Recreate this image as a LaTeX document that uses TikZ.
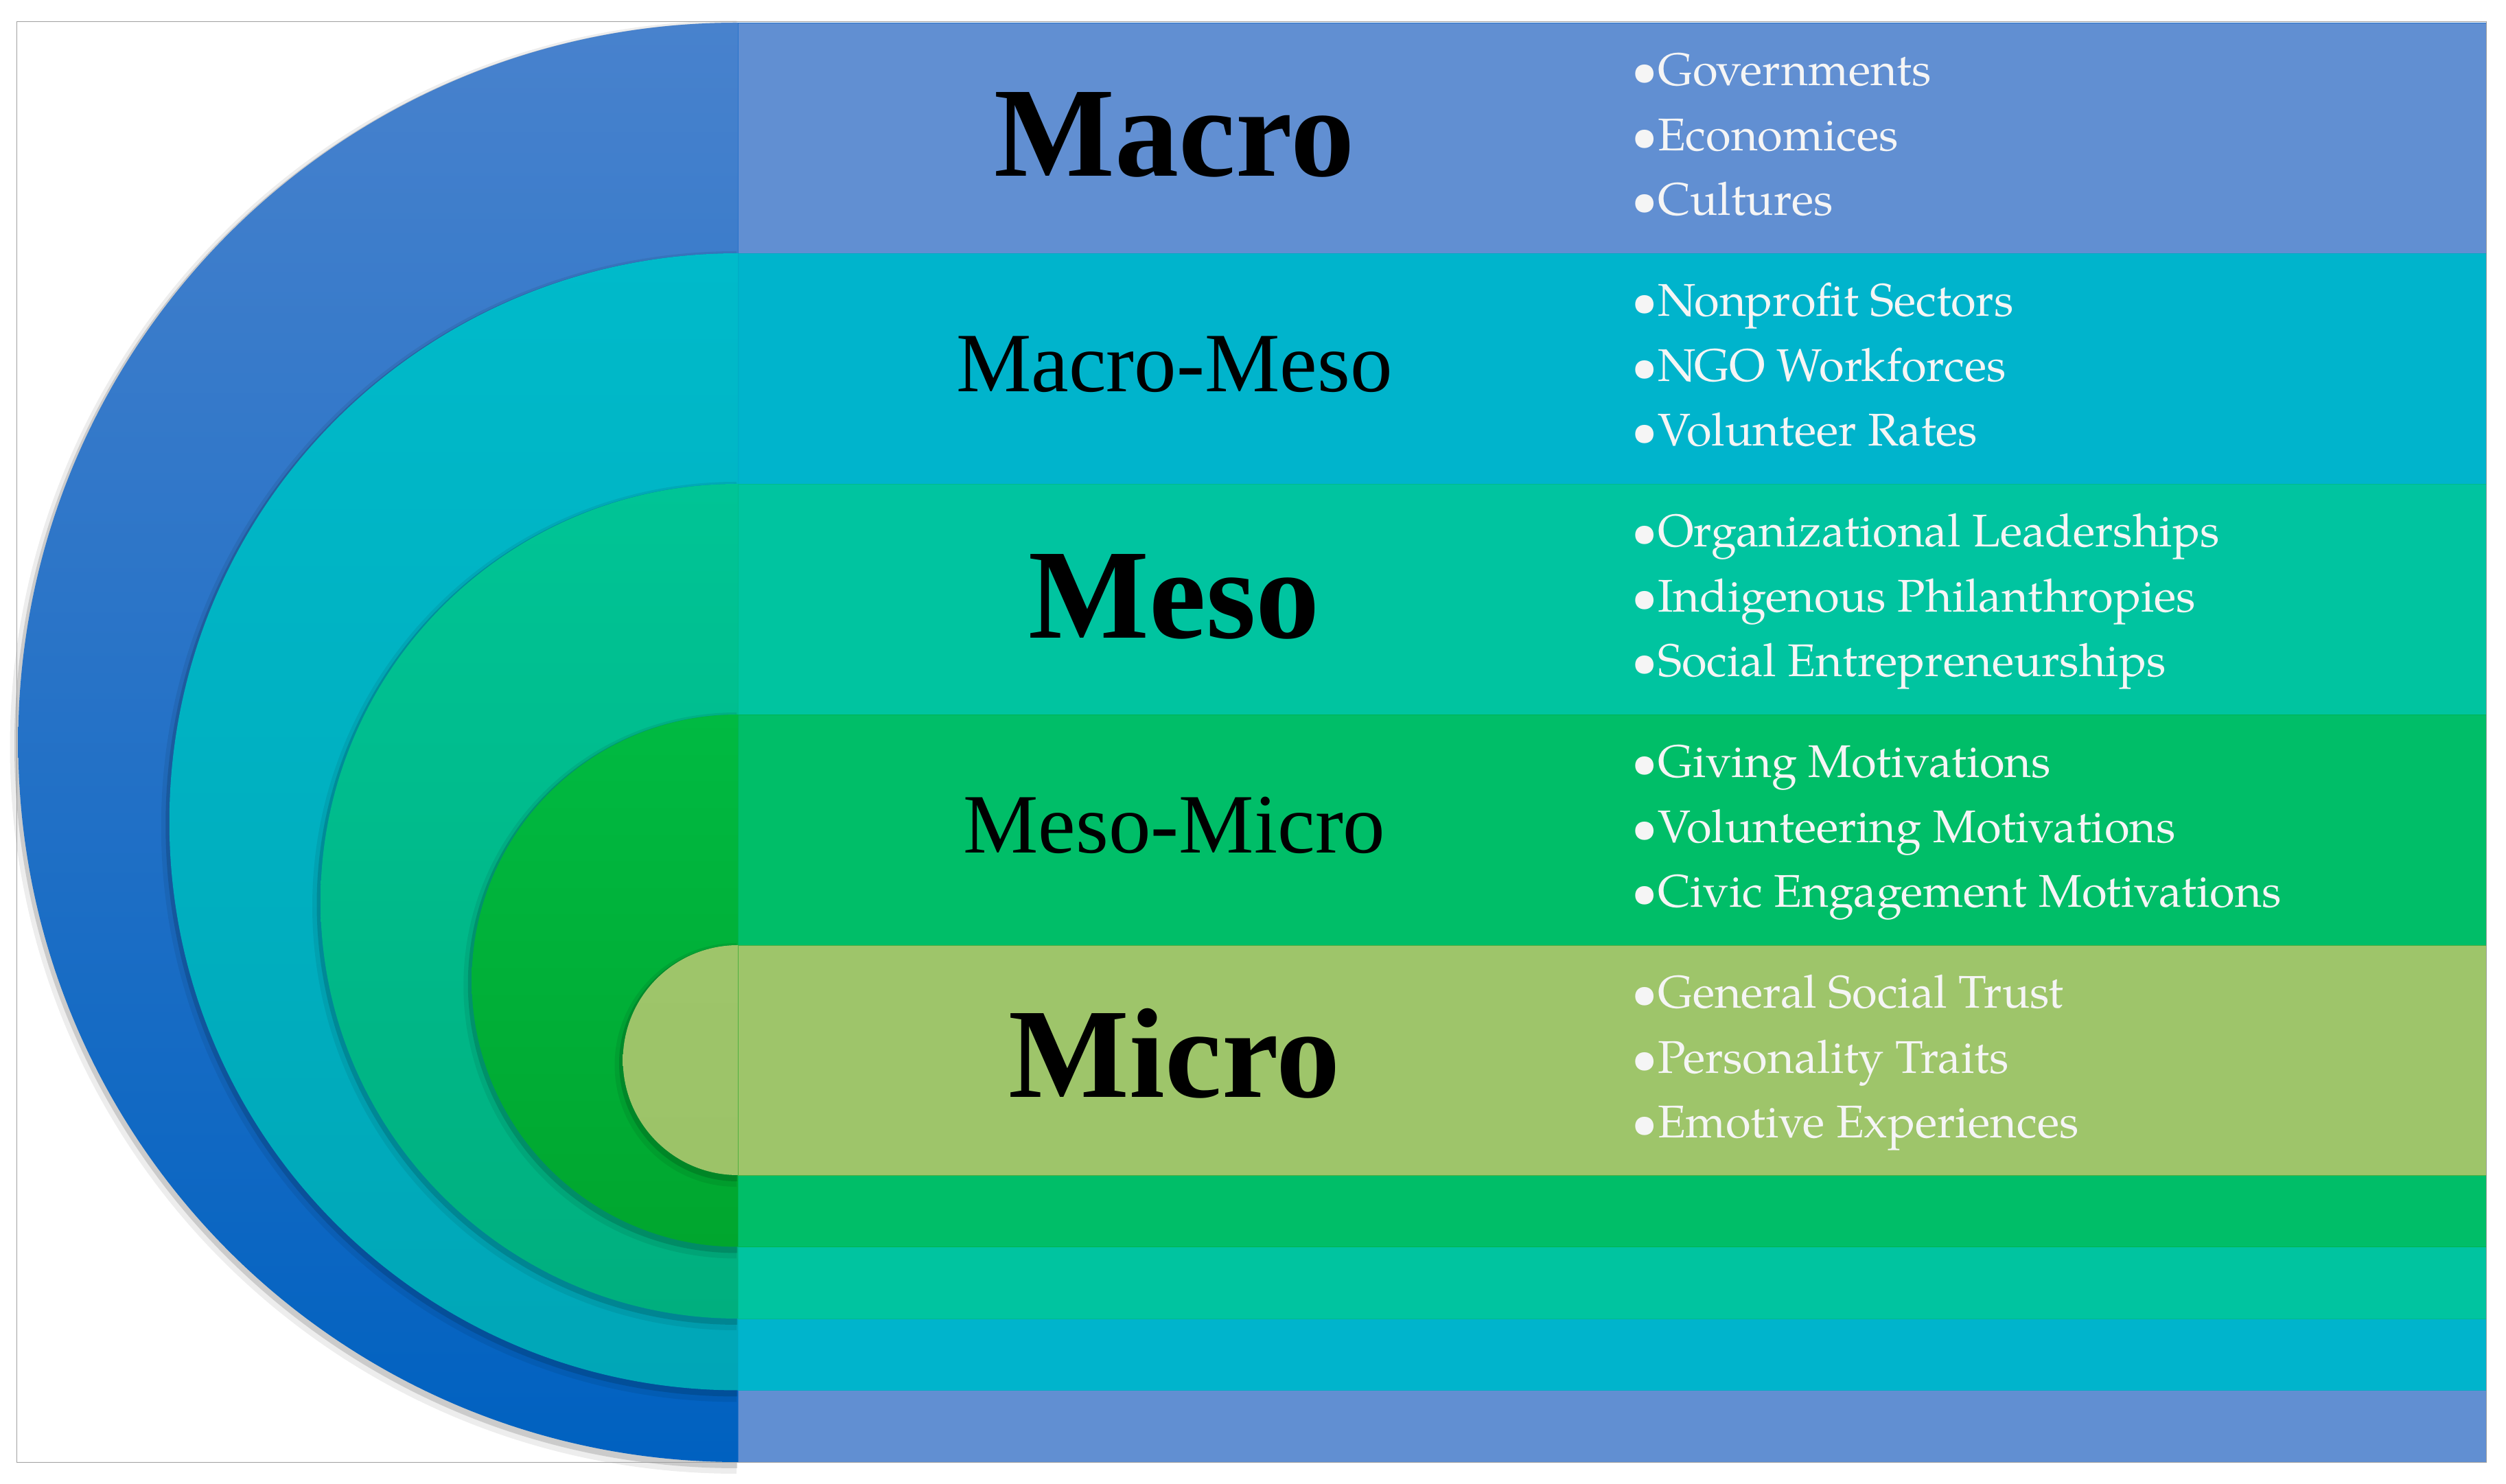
\documentclass[tikz,border=0pt]{standalone}
\usepackage{fontspec}
\newfontfamily\labelfont{Liberation Serif}
\newfontfamily\itemfont{texgyrepagella}[Extension=.otf,UprightFont=*-regular,BoldFont=*-bold]

\definecolor{topmacro}{RGB}{72,130,205}
\definecolor{botmacro}{RGB}{0,97,192}
\definecolor{bandmacro}{RGB}{97,143,210}
\definecolor{linemacro}{RGB}{40,115,202}
\definecolor{topmm}{RGB}{0,186,202}
\definecolor{botmm}{RGB}{0,166,183}
\definecolor{bandmm}{RGB}{0,180,204}
\definecolor{linemm}{RGB}{0,172,196}
\definecolor{topmeso}{RGB}{0,196,150}
\definecolor{botmeso}{RGB}{0,175,126}
\definecolor{bandmeso}{RGB}{0,196,160}
\definecolor{linemeso}{RGB}{0,188,140}
\definecolor{topmi}{RGB}{0,186,66}
\definecolor{botmi}{RGB}{0,166,46}
\definecolor{bandmi}{RGB}{0,190,104}
\definecolor{linemi}{RGB}{0,180,80}
\definecolor{topmicro}{RGB}{158,197,106}
\definecolor{botmicro}{RGB}{156,195,104}
\definecolor{bandmicro}{RGB}{158,197,106}
\definecolor{linemicro}{RGB}{80,176,64}
\definecolor{framegray}{RGB}{160,160,160}

\tikzset{
  level/.style={font=\labelfont\fontsize{35}{40}\selectfont,anchor=base,inner sep=0pt},
  levelbig/.style={font=\labelfont\bfseries\fontsize{53}{60}\selectfont,anchor=base,inner sep=0pt},
  item/.style={font=\itemfont\fontsize{19}{22}\selectfont,text=white!96!black,anchor=base west,inner sep=0pt}
}

\begin{document}
\begin{tikzpicture}
\useasboundingbox (0,0) rectangle (36.51,21.62);
\fill[white] (0,0) rectangle (36.51,21.62);

% nested half disks, each with its band to the right
\foreach \nm/\tp/\bt in {macro/21.29/0.32, mm/17.93/1.365, meso/14.57/2.41, mi/11.21/3.455, micro/7.85/4.50}{
  \fill[black,opacity=.07] (10.73,{\tp+0.03}) arc[start angle=90,end angle=270,radius={(\tp-\bt)/2+0.10}] -- cycle;
  \fill[black,opacity=.14] (10.74,{\tp}) arc[start angle=90,end angle=270,radius={(\tp-\bt)/2+0.045}] -- cycle;
  \shade[top color=top\nm,bottom color=bot\nm] (10.75,\tp) arc[start angle=90,end angle=270,radius={(\tp-\bt)/2}] -- cycle;
  \fill[band\nm] (10.75,\bt) rectangle (36.22,\tp);
  \draw[line\nm,line width=0.04] (10.75,\bt) rectangle (36.22,\tp);
}

% level names
\node[levelbig] (macro) at (17.11,19.05) {Macro};
\node[level] (macromeso) at (17.11,15.91) {Macro-Meso};
\node[levelbig] (meso) at (17.11,12.32) {Meso};
\node[level] (mesomicro) at (17.11,9.19) {Meso-Micro};
\node[levelbig] (micro) at (17.11,5.63) {Micro};

% bullet lists
\node[item] (gov) at (23.77,20.37) {\textbullet Governments};
\node[item] (econ) at (23.77,19.425) {\textbullet Economices};
\node[item] (cult) at (23.77,18.48) {\textbullet Cultures};
\node[item] (npo) at (23.77,17.01) {\textbullet Nonprofit Sectors};
\node[item] (ngo) at (23.77,16.065) {\textbullet NGO Workforces};
\node[item] (vol) at (23.77,15.12) {\textbullet Volunteer Rates};
\node[item] (lead) at (23.77,13.65) {\textbullet Organizational Leaderships};
\node[item] (phil) at (23.77,12.705) {\textbullet Indigenous Philanthropies};
\node[item] (entr) at (23.77,11.76) {\textbullet Social Entrepreneurships};
\node[item] (give) at (23.77,10.29) {\textbullet Giving Motivations};
\node[item] (volm) at (23.77,9.345) {\textbullet Volunteering Motivations};
\node[item] (civ) at (23.77,8.40) {\textbullet Civic Engagement Motivations};
\node[item] (trust) at (23.77,6.93) {\textbullet General Social Trust};
\node[item] (pers) at (23.77,5.985) {\textbullet Personality Traits};
\node[item] (emo) at (23.77,5.04) {\textbullet Emotive Experiences};

% outer frame
\draw[framegray,line width=0.07] (0.24,0.32) rectangle (36.22,21.305);
\end{tikzpicture}
\end{document}
